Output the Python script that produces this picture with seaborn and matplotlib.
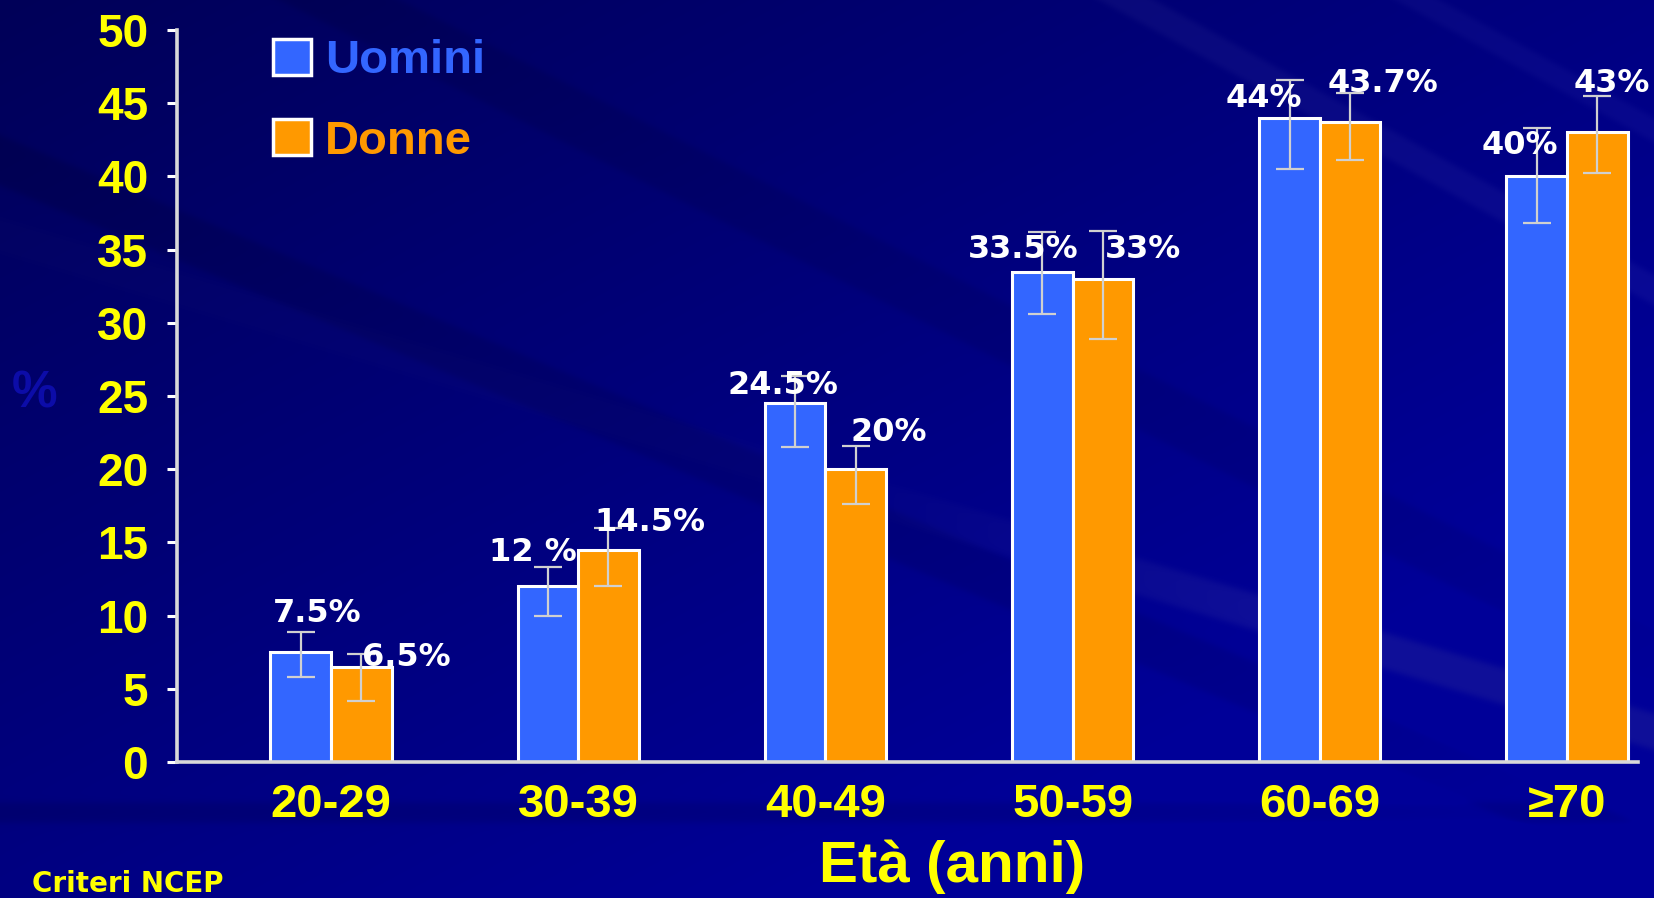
import numpy as np
import pandas as pd
import matplotlib
matplotlib.use("Agg")
import matplotlib.pyplot as plt
import seaborn as sns

# ---- data -------------------------------------------------------------
age_groups = ["20-29", "30-39", "40-49", "50-59", "60-69", "≥70"]
sexes = ["Uomini", "Donne"]

uomini = [7.5, 12, 24.5, 33.5, 44, 40]
donne = [6.5, 14.5, 20, 33, 43.7, 43]

# confidence interval bounds
uomini_low = [5.8, 10.0, 21.5, 30.6, 40.5, 36.8]
uomini_high = [8.9, 13.3, 26.4, 36.2, 46.6, 43.3]
donne_low = [4.2, 12.0, 17.6, 28.9, 41.1, 40.2]
donne_high = [7.35, 16.0, 21.6, 36.3, 45.7, 45.5]

labels_uomini = ["7.5%", "12 %", "24.5%", "33.5%", "44%", "40%"]
labels_donne = ["6.5%", "14.5%", "20%", "33%", "43.7%", "43%"]

y_ticks = [0, 5, 10, 15, 20, 25, 30, 35, 40, 45, 50]

# ---- style ------------------------------------------------------------
BLUE = "#3366ff"
ORANGE = "#ff9900"
YELLOW = "#ffff00"
AXIS_GREY = "#d9d9d9"
ERR_GREY = "#d0d0d0"

# label placement (pixel offsets from the top centre of each bar)
offsets_uomini = [(17, 39), (-15, 34), (-12, 18), (-19, 22), (-26, 19), (-17, 31)]
offsets_donne = [(45, 9), (41, 27), (33, 37), (40, 29), (33, 39), (14, 49)]

sns.set_theme(style="white")
plt.rcParams["font.family"] = ["Liberation Sans", "DejaVu Sans"]

W, H = 1654, 898
fig = plt.figure(figsize=(W / 100, H / 100), dpi=100)


def navy_background(h, w):
    y, x = np.mgrid[0:h, 0:w].astype(float)
    blue = 88 + 42 * x / w + 42 * y / h
    rg = np.zeros_like(blue)
    # (intercept, slope, half-width, blue shift, red/green shift, fade-in x)
    streaks = [
        (235, 0.30, 18, 4, 16, 800),
        (160, 0.42, 25, -12, 0, None),
        (-170, 0.50, 30, -10, 0, None),
        (812, 0.00, 10, -14, 0, None),
        (-620, 0.55, 15, 6, 10, None),
        (-780, 0.55, 12, 6, 8, None),
    ]
    for c, slope, width, d_blue, d_rg, fade in streaks:
        s = np.abs(y - slope * x - c)
        band = 1.0 / (1.0 + np.exp((s - width) / 2.0))
        if fade is not None:
            band = band * np.clip((x - fade) / 500.0, 0.15, 1.0)
        blue += d_blue * band
        rg += d_rg * band
    blue = np.clip(blue, 0, 152)
    rg = np.clip(rg, 0, 255)
    return np.stack([rg, rg, blue], axis=-1) / 255.0


bg_ax = fig.add_axes([0, 0, 1, 1], zorder=-10)
bg_ax.imshow(navy_background(H, W), aspect="auto", extent=[0, 1, 0, 1],
             interpolation="bilinear")
bg_ax.set_axis_off()

ax_left, ax_right, ax_top, ax_bottom = 176.7, 1638, 30, 762
ax = fig.add_axes([ax_left / W, 1 - ax_bottom / H,
                   (ax_right - ax_left) / W, (ax_bottom - ax_top) / H])
ax.patch.set_alpha(0)

df = pd.DataFrame({
    "Età": age_groups * 2,
    "Sesso": [sexes[0]] * len(age_groups) + [sexes[1]] * len(age_groups),
    "Valore": uomini + donne,
})

sns.barplot(data=df, x="Età", y="Valore", hue="Sesso", hue_order=sexes,
            order=age_groups, palette={"Uomini": BLUE, "Donne": ORANGE},
            width=0.49, saturation=1, edgecolor="white", linewidth=2.2,
            errorbar=None, ax=ax, zorder=2)

handles, leg_labels = ax.get_legend_handles_labels()
if ax.get_legend() is not None:
    ax.get_legend().remove()

# error bars and value labels
for container, lows, highs, texts, offs in zip(
        ax.containers, [uomini_low, donne_low], [uomini_high, donne_high],
        [labels_uomini, labels_donne], [offsets_uomini, offsets_donne]):
    xs = [b.get_x() + b.get_width() / 2 for b in container]
    ys = [b.get_height() for b in container]
    yerr = [[v - lo for v, lo in zip(ys, lows)],
            [hi - v for v, hi in zip(ys, highs)]]
    ax.errorbar(xs, ys, yerr=yerr, fmt="none", ecolor=ERR_GREY,
                elinewidth=1.6, capsize=10, capthick=1.6, zorder=3)
    for x, v, t, (dx, dy) in zip(xs, ys, texts, offs):
        ax.annotate(t, (x, v), xytext=(dx, dy), textcoords="offset pixels",
                    ha="center", va="center", color="white", fontsize=23,
                    fontweight="bold", family=["DejaVu Sans"],
                    annotation_clip=False, zorder=4)

# axes
ax.set_ylim(0, 50)
ax.set_xlim(-0.624, 5.287)
ax.set_yticks(y_ticks)
ax.set_xlabel("")
ax.set_ylabel("")
for side in ("top", "right"):
    ax.spines[side].set_visible(False)
for side in ("left", "bottom"):
    ax.spines[side].set_color(AXIS_GREY)
    ax.spines[side].set_linewidth(2.6)
    ax.spines[side].set_zorder(5)
ax.tick_params(axis="y", left=True, length=7.5, width=2.2, color="white",
               direction="out", pad=13, labelsize=33, labelcolor=YELLOW)
ax.tick_params(axis="x", bottom=False, length=0, pad=15, labelsize=34,
               labelcolor=YELLOW)
for lbl in ax.get_yticklabels() + ax.get_xticklabels():
    lbl.set_fontweight("bold")

# legend
leg = ax.legend(handles, leg_labels, loc="upper left",
                bbox_to_anchor=(273 / W, 1 - 39 / H),
                bbox_transform=fig.transFigure, frameon=False,
                borderpad=0, borderaxespad=0, handlelength=0.8,
                handleheight=0.8, handletextpad=0.3, labelspacing=0.76,
                prop={"size": 34, "weight": "bold"})
for h, txt, col in zip(leg.legend_handles, leg.get_texts(), [BLUE, ORANGE]):
    h.set_edgecolor("white")
    h.set_linewidth(2.5)
    h.set_facecolor(col)
    txt.set_color(col)

# titles and notes
fig.text(35 / W, 1 - 394 / H, "%", ha="center", va="center", fontsize=37,
         fontweight="bold", color="#0c0ca8")
fig.text(952 / W, 1 - 882 / H, "Età (anni)", ha="center", va="baseline",
         fontsize=42, fontweight="bold", color=YELLOW)
fig.text(32 / W, 1 - 892 / H, "Criteri NCEP", ha="left", va="baseline",
         fontsize=20, fontweight="bold", color=YELLOW,
         family=["DejaVu Sans"])

fig.savefig("out.png", dpi=100)
